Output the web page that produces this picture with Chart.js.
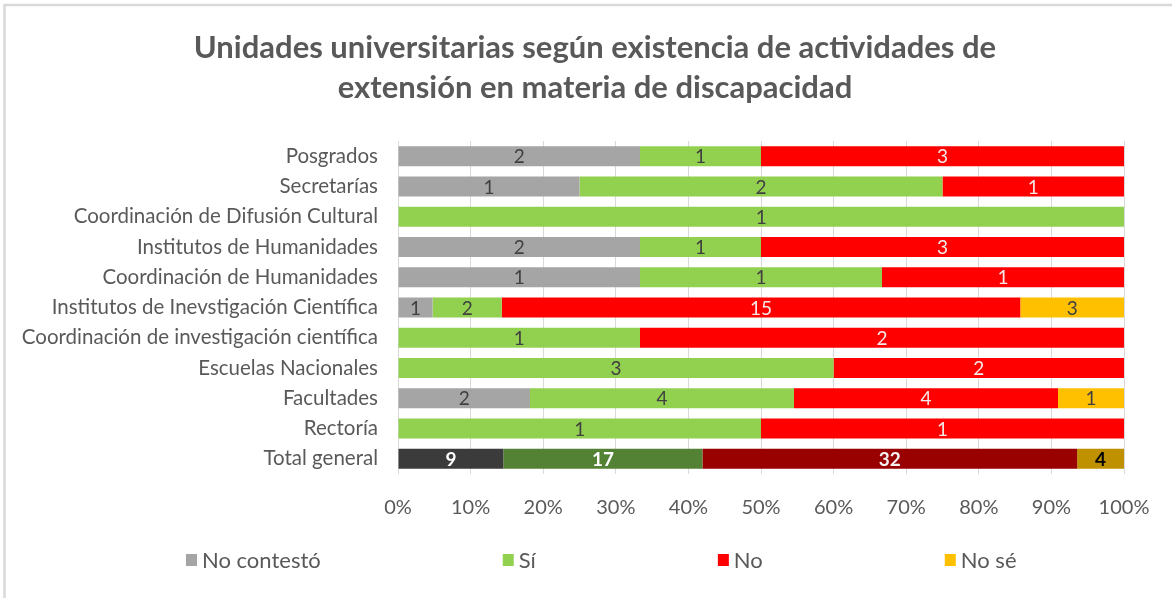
<!DOCTYPE html>
<html>
<head>
<meta charset="utf-8">
<script src="https://cdn.jsdelivr.net/npm/chart.js@4/dist/chart.umd.min.js"></script>
<style>
  html, body { margin: 0; padding: 0; background: #ffffff; }
  #wrap { position: relative; width: 1172px; height: 598px; }
</style>
</head>
<body>
<div id="wrap"><canvas id="c" width="1172" height="598"></canvas></div>
<script>
// Unidades (top to bottom)
const categories = [
  'Posgrados',
  'Secretarías',
  'Coordinación de Difusión Cultural',
  'Institutos de Humanidades',
  'Coordinación de Humanidades',
  'Institutos de Inevstigación Científica',
  'Coordinación de investigación científica',
  'Escuelas Nacionales',
  'Facultades',
  'Rectoría',
  'Total general'
];

// Counts per answer
const noContesto = [2, 1, 0, 2, 1, 1, 0, 0, 2, 0, 9];
const si         = [1, 2, 1, 1, 1, 2, 1, 3, 4, 1, 17];
const no         = [3, 1, 0, 3, 1, 15, 2, 2, 4, 1, 32];
const noSe       = [0, 0, 0, 0, 0, 3, 0, 0, 1, 0, 4];

const seriesNames = ['No contestó', 'Sí', 'No', 'No sé'];
const seriesCounts = [noContesto, si, no, noSe];

const titleLines = ['Unidades universitarias según existencia de actividades de',
                    'extensión en materia de discapacidad'];

// Regular rows / "Total general" row colours
const baseColors  = ['#a5a5a5', '#92d050', '#ff0000', '#ffc000'];
const totalColors = ['#3b3b3b', '#548235', '#990000', '#bf9000'];
const labelColors = ['#404040', '#404040', '#f4e8e8', '#404040'];
const totalLabelColors = ['#ffffff', '#ffffff', '#f2f2f2', '#000000'];

const xTicks = [0, 10, 20, 30, 40, 50, 60, 70, 80, 90, 100];

const rowTotals = categories.map((_, i) => seriesCounts.reduce((s, arr) => s + arr[i], 0));
const lastIdx = categories.length - 1;

const datasets = seriesCounts.map((counts, k) => ({
  label: seriesNames[k],
  data: counts.map((v, i) => rowTotals[i] ? v / rowTotals[i] * 100 : 0),
  counts: counts,
  backgroundColor: categories.map((_, i) => i === lastIdx ? totalColors[k] : baseColors[k]),
  legendColor: baseColors[k],
  borderWidth: 0,
  barPercentage: 0.66,
  categoryPercentage: 1.0
}));

const FONT = 'Lato, "Open Sans", sans-serif';

// Count labels centred inside each segment
const segmentLabels = {
  id: 'segmentLabels',
  afterDatasetsDraw(chart) {
    const ctx = chart.ctx;
    ctx.save();
    ctx.textAlign = 'center';
    ctx.textBaseline = 'middle';
    chart.data.datasets.forEach((ds, k) => {
      const meta = chart.getDatasetMeta(k);
      meta.data.forEach((bar, i) => {
        const v = ds.counts[i];
        if (!v) return;
        const cx = (bar.x + bar.base) / 2;
        if (i === lastIdx) {
          ctx.font = 'bold 19px ' + FONT;
          ctx.fillStyle = totalLabelColors[k];
        } else {
          ctx.font = '19px ' + FONT;
          ctx.fillStyle = labelColors[k];
        }
        ctx.fillText(String(v), cx, bar.y + 1);
      });
    });
    ctx.restore();
  }
};

// Title, legend row and outer frame
const titleLegendFrame = {
  id: 'titleLegendFrame',
  afterDraw(chart) {
    const ctx = chart.ctx;
    ctx.save();
    ctx.strokeStyle = '#d9d9d9';
    ctx.lineWidth = 2.5;
    ctx.strokeRect(4.5, 5, chart.width + 20, chart.height + 20);

    // title, two centred lines
    ctx.font = 'bold 31px ' + FONT;
    ctx.fillStyle = '#595959';
    ctx.textAlign = 'center';
    ctx.textBaseline = 'middle';
    titleLines.forEach((line, i) => ctx.fillText(line, 595, 48 + i * 40));

    // legend
    ctx.font = '22px ' + FONT;
    ctx.textAlign = 'left';
    const y = 560;
    const gap = 182;
    let x = 186;
    chart.data.datasets.forEach(ds => {
      ctx.fillStyle = ds.legendColor;
      ctx.fillRect(x, y - 6, 11, 12);
      ctx.fillStyle = '#595959';
      ctx.fillText(ds.label, x + 16, y + 1);
      x += 16 + ctx.measureText(ds.label).width + gap;
    });
    ctx.restore();
  }
};

new Chart(document.getElementById('c'), {
  type: 'bar',
  data: { labels: categories, datasets },
  plugins: [segmentLabels, titleLegendFrame],
  options: {
    indexAxis: 'y',
    responsive: false,
    animation: false,
    layout: { padding: { left: 8, right: 48, top: 141, bottom: 56 } },
    plugins: {
      legend: { display: false },
      tooltip: { enabled: false },
      title: { display: false }
    },
    scales: {
      x: {
        stacked: true,
        min: 0,
        max: 100,
        afterBuildTicks(scale) { scale.ticks = xTicks.map(v => ({ value: v })); },
        ticks: {
          callback: v => v + '%',
          color: '#595959',
          font: { family: FONT, size: 20 },
          padding: 22,
          maxRotation: 0
        },
        grid: { color: '#d9d9d9', lineWidth: 1, drawTicks: false },
        border: { display: false }
      },
      y: {
        stacked: true,
        afterFit(scale) { scale.width = 390; },
        ticks: {
          color: '#595959',
          font: { family: FONT, size: 20.5 },
          padding: 20
        },
        grid: { display: false, drawTicks: false },
        border: { display: false }
      }
    }
  }
});
</script>
</body>
</html>
